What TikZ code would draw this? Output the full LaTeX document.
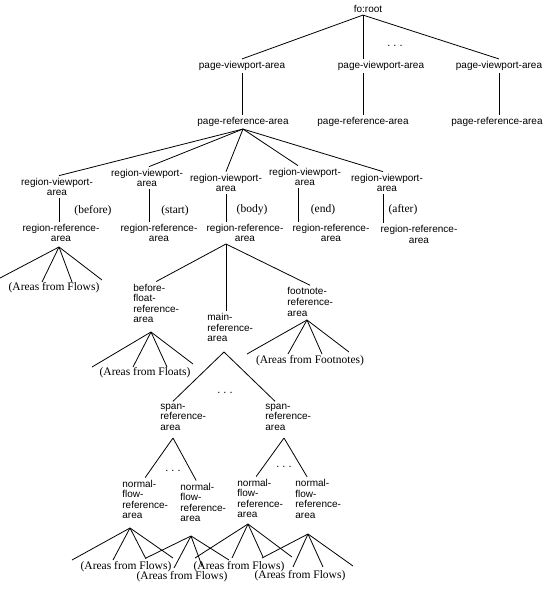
\documentclass[tikz,border=0pt]{standalone}
\usepackage{fontspec}
\setmainfont{Liberation Serif}
\setsansfont{Liberation Sans}

\begin{document}
\begin{tikzpicture}[x=1pt, y=-1pt, line width=0.8pt,
    box/.style={font=\sffamily\fontsize{10}{10.6}\selectfont, inner sep=2pt, align=center},
    stack/.style={box, align=left, anchor=west},
    note/.style={font=\fontsize{11.5}{13}\selectfont, inner sep=1pt},
    ellip/.style={font=\sffamily\fontsize{11}{11}\selectfont, inner sep=0pt}]
    \useasboundingbox (0,0) rectangle (550,590);
    \fill[white] (0,0) rectangle (550,590);

    % Root node and page areas
    \node[box] (root) at (368,9) {fo:root};
    \node[box] (pvA) at (242,66) {page-viewport-area};
    \node[box] (pvB) at (381,66) {page-viewport-area};
    \node[box] (pvC) at (499,66) {page-viewport-area};
    \node[box] (prA) at (243,122) {page-reference-area};
    \node[box] (prB) at (363,122) {page-reference-area};
    \node[box] (prC) at (497,122) {page-reference-area};
    \node[ellip] (dots1) at (395,46) {.~.~.};

    \coordinate (rootfork) at ([xshift=-5]root.south);
    \draw (rootfork) -- (pvA.north);
    \draw (rootfork) -- (pvB.north -| prB.north);
    \draw (rootfork) -- (pvC.north);
    \draw (pvA.south) -- (pvA.south |- prA.north);
    \draw (prB.north |- pvB.south) -- (prB.north);
    \draw (pvC.south) -- (pvC.south |- prC.north);

    % Regions
    \node[box] (rv1) at (57,187) {region-viewport-\\area};
    \node[box] (rv2) at (147,178) {region-viewport-\\area};
    \node[box] (rv3) at (226,183) {region-viewport-\\area};
    \node[box] (rv4) at (305,177) {region-viewport-\\area};
    \node[box] (rv5) at (387,183) {region-viewport-\\area};
    \node[box] (rr1) at (61,233) {region-reference-\\area};
    \node[box] (rr2) at (159,233) {region-reference-\\area};
    \node[box] (rr3) at (245,233) {region-reference-\\area};
    \node[box] (rr4) at (331,233) {region-reference-\\area};
    \node[box] (rr5) at (419,234.5) {region-reference-\\area};
    \node[note] (lbefore) at (93,211) {(before)};
    \node[note] (lstart) at (175,211) {(start)};
    \node[note] (lbody) at (252,210) {(body)};
    \node[note] (lend) at (323,210) {(end)};
    \node[note] (lafter) at (403,210) {(after)};

    \foreach \i/\s in {1/2,2/2,3/0,4/-7,5/-4} {
        \draw (prA.south) -- ([xshift=\s]rv\i.north);
        \draw ([xshift=\s]rv\i.south) -- ([xshift=\s]rv\i.south |- rr\i.north);
    }

    % Body region
    \node[stack] (bf) at (131,303.5) {before-\\float-\\reference-\\area};
    \node[stack] (main) at (205,327.5) {main-\\reference-\\area};
    \node[stack] (fn) at (285,302) {footnote-\\reference-\\area};
    \coordinate (bodyfork) at (226,244);
    \draw (bodyfork) -- (bf.north);
    \draw (bodyfork) -- (bodyfork |- main.north);
    \draw (bodyfork) -- (fn.north);

    % Spans and flows
    \node[stack] (sp1) at (158,417) {span-\\reference-\\area};
    \node[stack] (sp2) at (263,417) {span-\\reference-\\area};
    \node[ellip] (dots2) at (225,393) {.~.~.};
    \coordinate (mainfork) at (224,352);
    \draw (mainfork) -- ([xshift=15]sp1.north west);
    \draw (mainfork) -- ([xshift=12]sp2.north west);

    \node[stack] (nf1) at (120,499.5) {normal-\\flow-\\reference-\\area};
    \node[stack] (nf2) at (178,502.5) {normal-\\flow-\\reference-\\area};
    \node[stack] (nf3) at (235,498.5) {normal-\\flow-\\reference-\\area};
    \node[stack] (nf4) at (293,499) {normal-\\flow-\\reference-\\area};
    \node[ellip] (dots3) at (173,471) {.~.~.};
    \node[ellip] (dots4) at (284,467) {.~.~.};
    \coordinate (sp1fork) at (173,438);
    \coordinate (sp2fork) at (284,438);
    \draw (sp1fork) -- (nf1.north);
    \draw (sp1fork) -- ([xshift=-7]nf2.north);
    \draw (sp2fork) -- ([xshift=-4]nf3.north);
    \draw (sp2fork) -- ([xshift=-11]nf4.north);

    % Leaf areas
    \node[note] (flows1) at (54,288) {(Areas from Flows)};
    \node[note] (floats) at (145,373) {(Areas from Floats)};
    \node[note] (notes) at (310,361) {(Areas from Footnotes)};
    \node[note] (flows2) at (126,567) {(Areas from Flows)};
    \node[note] (flows3) at (182,577) {(Areas from Flows)};
    \node[note] (flows4) at (239,567) {(Areas from Flows)};
    \node[note] (flows5) at (300,576) {(Areas from Flows)};

    \coordinate (rr1fork) at (59,247);
    \coordinate (bffork) at (151,332);
    \coordinate (fnfork) at (307,320);
    \coordinate (nf1fork) at (130,528);
    \coordinate (nf2fork) at (191,536);
    \coordinate (nf3fork) at (248,524);
    \coordinate (nf4fork) at (308,534);
    \foreach \f/\ends in {rr1fork/{-59/31,-17/35,13/35,43/33},
            bffork/{-59/35,-18/35,16/35,42/32},
            fnfork/{-60/34,-19/34,15/34,42/32},
            nf1fork/{-58/32,-17/32,16/31,43/30},
            nf2fork/{-45/22,-17/32,11/30,38/24},
            nf3fork/{-53/34,-16/34,15/33,44/33},
            nf4fork/{-46/24,-15/33,15/33,45/32}}
        \foreach \dx/\dy [count=\k] in \ends
            \draw (\f) -- ++(\dx,\dy) coordinate (\f-\k);
\end{tikzpicture}
\end{document}
